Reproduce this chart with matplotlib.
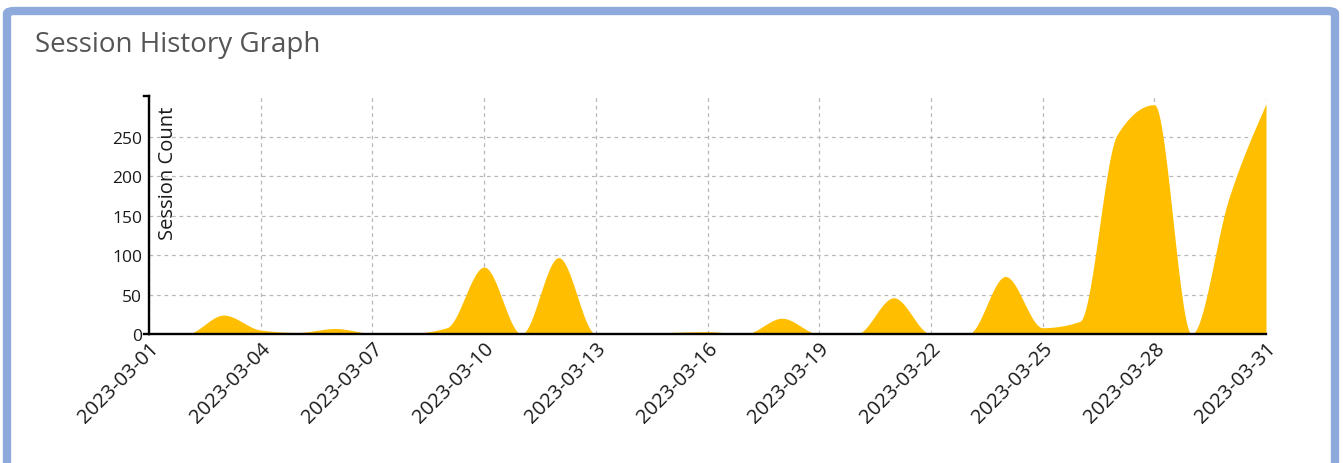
"""
Session history panel: daily session counts for March 2023,
drawn as a smoothed area chart.
"""

#%% Imports:

import numpy as np
import pandas as pd
import matplotlib
matplotlib.use('Agg')
import matplotlib.pyplot as plt
from matplotlib.patches import FancyBboxPatch

#%% Data:

dates = pd.date_range('2023-03-01', '2023-03-31', freq='D')
counts = [0, 0, 24, 5, 2, 7, 1, 1, 8, 85,
          0, 97, 0, 0, 2, 3, 0, 20, 0, 0,
          46, 0, 0, 73, 8, 16, 253, 291, 0, 172,
          292]

tick_dates = pd.date_range('2023-03-01', '2023-03-31', freq='3D')
y_ticks = [0, 50, 100, 150, 200, 250]
y_top = 302

#%% Monotone cubic curve (same rule as d3.curveMonotoneX):

def monotone_curve(x, y, n_sub=40):
    x = np.asarray(x, float)
    y = np.asarray(y, float)
    n = len(x)
    h = np.diff(x)
    s = np.diff(y)/h
    t = np.zeros(n)
    for i in range(1, n - 1):
        p = (s[i-1]*h[i] + s[i]*h[i-1])/(h[i-1] + h[i])
        t[i] = ((np.sign(s[i-1]) + np.sign(s[i]))
                * min(abs(s[i-1]), abs(s[i]), 0.5*abs(p)))
    t[0] = (3*s[0] - t[1])/2
    t[-1] = (3*s[-1] - t[-2])/2
    xs, ys = [], []
    for i in range(n - 1):
        u = np.linspace(0, 1, n_sub, endpoint=(i == n - 2))
        h00 = 2*u**3 - 3*u**2 + 1
        h10 = u**3 - 2*u**2 + u
        h01 = -2*u**3 + 3*u**2
        h11 = u**3 - u**2
        xs.append(x[i] + u*h[i])
        ys.append(h00*y[i] + h10*h[i]*t[i] + h01*y[i+1] + h11*h[i]*t[i+1])
    return np.concatenate(xs), np.concatenate(ys)

#%% Figure and panel frame:

W, H = 1343, 464
fig = plt.figure(figsize=(W/100, H/100), dpi=100)

frame = FancyBboxPatch((7/W, -20/H), 1328/W, (H - 12 + 20)/H,
                       boxstyle='round,pad=0,rounding_size=0.006',
                       transform=fig.transFigure, facecolor='white',
                       edgecolor='#8eaadc', linewidth=6, zorder=0)
fig.patches.append(frame)

fig.text(35/W, 1 - 45/H, 'Session History Graph', family='Open Sans',
         fontsize=20, color='#555555', ha='left', va='center', zorder=2)

#%% Plot area:

ax_w = 1266 - 149
ax = fig.add_axes([149/W, 1 - 335/H, ax_w/W, (335 - 97)/H])
ax.set_zorder(1)
ax.set_facecolor('none')

x_num = matplotlib.dates.date2num(dates)
xc, yc = monotone_curve(x_num, counts)
yc = np.clip(yc, 0, None)
ax.fill_between(matplotlib.dates.num2date(xc), 0, yc,
                color='#ffbf00', linewidth=0, zorder=2)

ax.set_xlim(dates[0], dates[-1])
ax.set_ylim(0, y_top)

ax.set_xticks(tick_dates)
ax.set_xticklabels([d.strftime('%Y-%m-%d') for d in tick_dates],
                   rotation=45, ha='right', va='top',
                   rotation_mode='anchor', family='Open Sans',
                   fontsize=14.5, color='#1a1a1a')
ax.set_yticks(y_ticks)
ax.set_yticklabels([str(v) for v in y_ticks], family='Open Sans',
                   fontsize=12.5, color='#1a1a1a')

ax.grid(True, color='#b8b8b8', linestyle=(0, (3, 3)), linewidth=0.9,
        zorder=1)
ax.set_axisbelow(True)

for side in ['top', 'right']:
    ax.spines[side].set_visible(False)
for side in ['left', 'bottom']:
    ax.spines[side].set_linewidth(1.7)
    ax.spines[side].set_color('black')
    ax.spines[side].set_zorder(3)

ax.tick_params(axis='x', length=0, pad=3)
ax.tick_params(axis='y', length=0, pad=5)

# outer ticks at both ends of the y axis
for yv in [0, 1]:
    ax.plot([-5/ax_w, 0], [yv, yv], transform=ax.transAxes,
            color='black', linewidth=1.7, clip_on=False, zorder=3)

ax.text(0.0085, 0.96, 'Session Count', transform=ax.transAxes,
        rotation=90, ha='left', va='top', family='Open Sans',
        fontsize=14.5, color='#1a1a1a')

plt.savefig('out.png', dpi=100)
